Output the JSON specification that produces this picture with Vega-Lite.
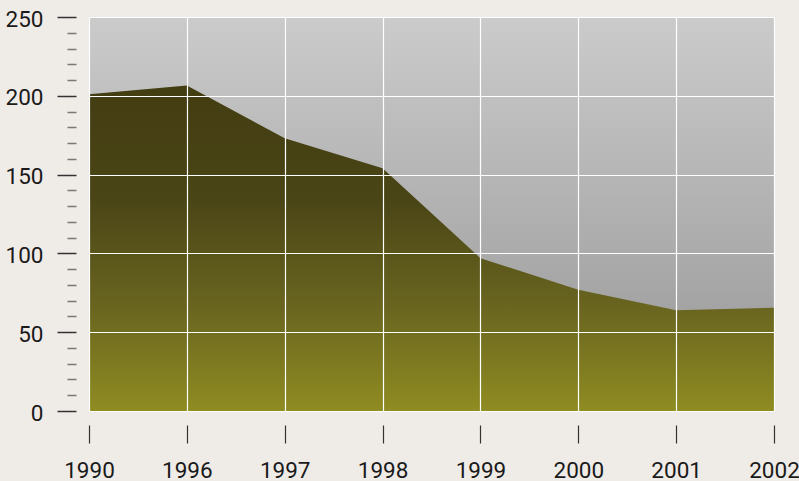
{
  "$schema": "https://vega.github.io/schema/vega-lite/v6.json",
  "width": 685,
  "height": 394,
  "autosize": "none",
  "padding": {"left": 89, "top": 17, "right": 25, "bottom": 70},
  "background": "#efebe7",
  "config": {
    "view": {"stroke": null},
    "font": "Roboto"
  },
  "data": {
    "values": [
      {"year": "1990", "value": 201},
      {"year": "1996", "value": 206.5},
      {"year": "1997", "value": 173},
      {"year": "1998", "value": 154},
      {"year": "1999", "value": 97},
      {"year": "2000", "value": 77},
      {"year": "2001", "value": 64},
      {"year": "2002", "value": 65.5}
    ]
  },
  "encoding": {
    "x": {
      "field": "year",
      "type": "ordinal",
      "scale": {"type": "point", "padding": 0},
      "axis": {
        "title": null,
        "orient": "bottom",
        "offset": 14,
        "domain": false,
        "tickSize": 18,
        "tickColor": "#333333",
        "tickWidth": 1.2,
        "labelAngle": 0,
        "labelFont": "Roboto",
        "labelFontSize": 22.5,
        "labelColor": "#1a1a1a",
        "labelPadding": 16,
        "labelOverlap": false,
        "grid": true,
        "gridColor": "#ffffff",
        "gridWidth": 1.2,
        "zindex": 1
      }
    }
  },
  "layer": [
    {
      "mark": {
        "type": "area",
        "fill": {
          "x1": 0, "y1": 0, "x2": 0, "y2": 1,
          "gradient": "linear",
          "stops": [
            {"offset": 0, "color": "#cbcbcb"},
            {"offset": 0.75, "color": "#a3a3a3"},
            {"offset": 1, "color": "#959595"}
          ]
        }
      },
      "encoding": {
        "y": {
          "datum": 250,
          "type": "quantitative",
          "scale": {"domain": [0, 250], "nice": false},
          "axis": {
            "title": null,
            "offset": 13,
            "domain": false,
            "values": [0, 10, 20, 30, 40, 50, 60, 70, 80, 90, 100, 110, 120, 130, 140, 150, 160, 170, 180, 190, 200, 210, 220, 230, 240, 250],
            "tickCount": 30,
            "tickSize": {"condition": {"test": "datum.value % 50 === 0", "value": 19}, "value": 9},
            "tickColor": {"condition": {"test": "datum.value % 50 === 0", "value": "#333333"}, "value": "#777777"},
            "tickWidth": 1.5,
            "labelExpr": "datum.value % 50 === 0 ? datum.label : ''",
            "labelOverlap": false,
            "labelFont": "Roboto",
            "labelFontSize": 22.5,
            "labelColor": "#1a1a1a",
            "labelPadding": 14,
            "labelOffset": 2,
            "grid": true,
            "gridColor": "#ffffff",
            "gridWidth": 1.2,
            "gridOpacity": {"condition": {"test": "datum.value % 50 === 0", "value": 1}, "value": 0},
            "zindex": 1
          }
        }
      }
    },
    {
      "mark": {
        "type": "area",
        "fill": {
          "x1": 0, "y1": 0, "x2": 0, "y2": 1,
          "gradient": "linear",
          "stops": [
            {"offset": 0, "color": "#433d12"},
            {"offset": 0.35, "color": "#4a4516"},
            {"offset": 0.7, "color": "#6b6720"},
            {"offset": 1, "color": "#8f8c22"}
          ]
        }
      },
      "encoding": {
        "y": {"field": "value", "type": "quantitative"}
      }
    }
  ]
}
